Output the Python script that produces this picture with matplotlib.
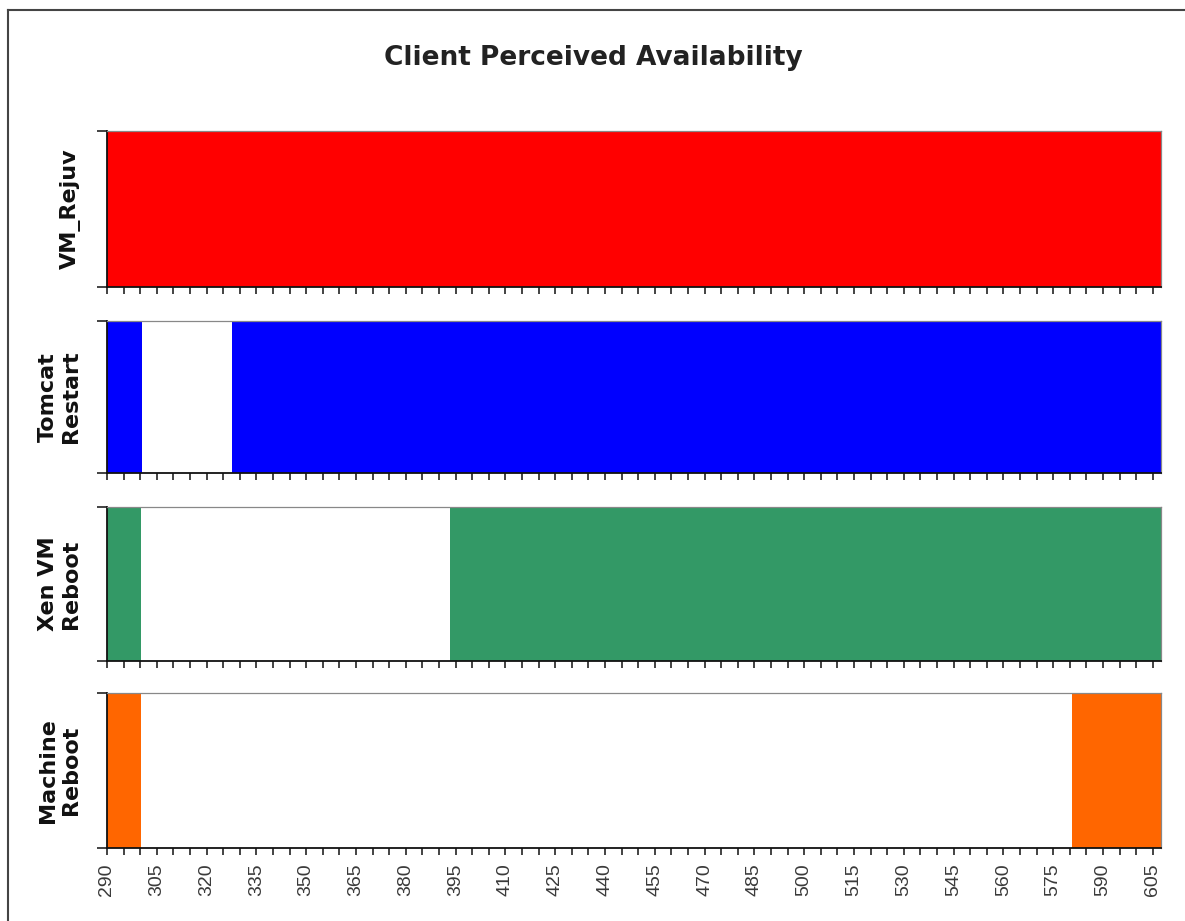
import matplotlib
matplotlib.use("Agg")
import matplotlib.pyplot as plt
from matplotlib.lines import Line2D
import numpy as np

# ---- data ----
title = "Client Perceived Availability"
categories = ["VM_Rejuv", "Tomcat\nRestart", "Xen VM\nReboot", "Machine\nReboot"]
colors = ["#FF0000", "#0000FF", "#339966", "#FF6600"]
t_start = 290
t_end = 607.5
# outage (client perceived unavailability) per technique; None = no outage
outage_start = [None, 300.5, 300.2, 300.3]
outage_end = [None, 327.6, 393.3, 580.8]

W, H = 1185, 921
fig = plt.figure(figsize=(W / 100, H / 100), dpi=100)

# panels in pixel coordinates (top, bottom)
panels_px = [(131, 287), (321, 473), (507, 661), (693, 848)]
left_px, right_px = 107, 1161

for i, (top, bot) in enumerate(panels_px):
    ax = fig.add_axes([left_px / W, (H - bot) / H, (right_px - left_px) / W, (bot - top) / H])
    if outage_start[i] is None:
        up = [(t_start, t_end - t_start)]
    else:
        up = [(t_start, outage_start[i] - t_start), (outage_end[i], t_end - outage_end[i])]
    ax.broken_barh(up, (0, 1), facecolors=colors[i], edgecolor="none")
    ax.set_xlim(t_start, t_end)
    ax.set_ylim(0, 1)
    ax.set_yticks([0, 1])
    ax.set_yticklabels([])
    ticks = np.arange(290, 606, 5)
    ax.set_xticks(ticks)
    if i == len(panels_px) - 1:
        labs = [str(t) if (t - 290) % 15 == 0 else "" for t in ticks]
        ax.set_xticklabels(labs, rotation=90, fontsize=14, color="#3a3a3a",
                           family=["Liberation Sans", "DejaVu Sans"])
    else:
        ax.set_xticklabels([])
    ax.tick_params(axis="x", direction="out", length=5, width=1.2, color="#222222", pad=6)
    ax.tick_params(axis="y", direction="out", length=7, width=1.2, color="#222222")
    for s in ["left", "bottom"]:
        ax.spines[s].set_color("#111111")
        ax.spines[s].set_linewidth(1.3)
    for s in ["top", "right"]:
        ax.spines[s].set_color("#888888")
        ax.spines[s].set_linewidth(0.9)
    ax.set_ylabel(categories[i], fontsize=16, fontweight="bold", color="#111111",
                  family=["DejaVu Sans"], linespacing=1.2)
    ax.yaxis.set_label_coords((81 - left_px) / (right_px - left_px), 0.5)

fig.text(593 / W, 1 - 58 / H, title, ha="center", va="center", fontsize=19,
         fontweight="bold", color="#222222")

# outer frame (left and top edges)
fig.add_artist(Line2D([8 / W, 8 / W], [0, 1 - 10 / H], transform=fig.transFigure,
                      color="#444444", lw=1.5))
fig.add_artist(Line2D([8 / W, 1], [1 - 10 / H, 1 - 10 / H], transform=fig.transFigure,
                      color="#444444", lw=1.5))

fig.savefig("out.png", dpi=100, facecolor="white")
